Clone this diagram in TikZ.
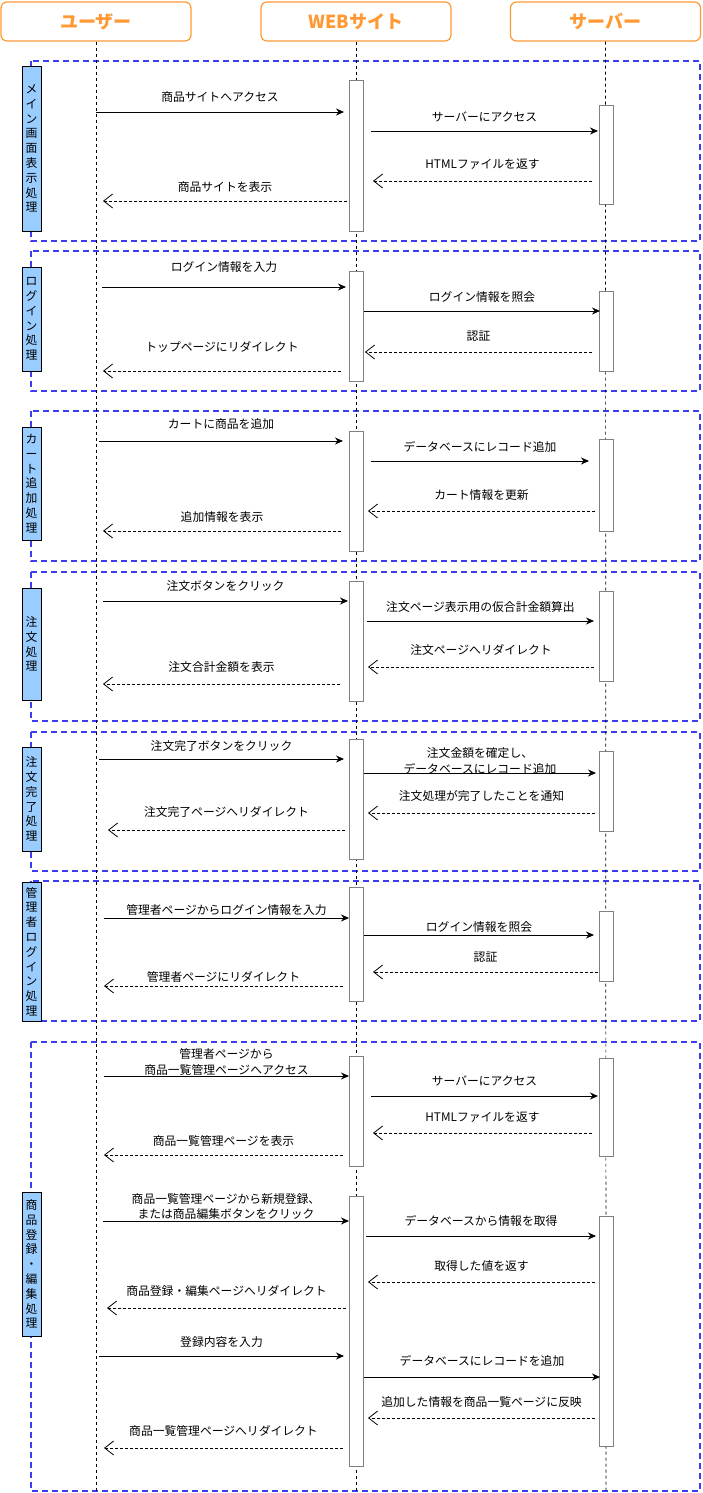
\documentclass[tikz,border=0pt]{standalone}
\usepackage{fontspec}
\setmainfont{Noto Sans CJK JP}
\usepackage{xcolor}
\usetikzlibrary{arrows.meta}
\definecolor{hdrorange}{HTML}{FF9933}
\definecolor{grpblue}{HTML}{3C3CF0}
\definecolor{lblblue}{HTML}{99CCFF}

\begin{document}
\begin{tikzpicture}[x=1pt, y=-1pt,
    hdr/.style={draw=hdrorange, line width=1.2pt, rounded corners=6pt, fill=white, minimum width=190pt, minimum height=39pt, text=hdrorange, font=\fontsize{18}{21}\selectfont\bfseries},
    lbl/.style={draw=black, fill=lblblue, line width=0.9pt, minimum width=19pt, inner sep=0pt, align=center, font=\fontsize{11.8}{14.8}\selectfont},
    act/.style={draw=black!50, fill=white, line width=1pt, minimum width=14pt, inner sep=0pt},
    grp/.style={draw=grpblue, line width=1.6pt, dash pattern=on 6pt off 4pt},
    life/.style={line width=0.7pt, dash pattern=on 3pt off 3pt},
    call/.style={line width=0.9pt, -{Stealth[length=8pt,width=7pt]}},
    ret/.style={line width=0.8pt, dash pattern=on 3pt off 2pt, -{Straight Barb[length=9pt,width=14pt]}},
    msg/.style={align=center, inner sep=0pt, font=\fontsize{11.8}{15.5}\selectfont}]

    \fill[white] (0,0) rectangle (703,1493);
    \useasboundingbox (0,0) rectangle (703,1493);

    % groups
    \draw[grp] (31,61) rectangle (700,241);
    \draw[grp] (31,251) rectangle (700,391);
    \draw[grp] (31,411) rectangle (700,561);
    \draw[grp] (31,572) rectangle (700,721);
    \draw[grp] (31,732) rectangle (700,871);
    \draw[grp] (31,881) rectangle (700,1021);
    \draw[grp] (31,1042) rectangle (700,1491);

    % lifelines
    \node[hdr] (U) at (96,21.5) {ユーザー};
    \node[hdr] (W) at (356,21.5) {WEBサイト};
    \node[hdr] (S) at (605.5,21.5) {サーバー};
    \coordinate (Ub) at (96,1493);
    \coordinate (Wb) at (356,1493);
    \coordinate (Sb) at (606,1493);
    \draw[life] (U.south) -- (Ub);
    \draw[life] (W.south) -- (Wb);
    \draw[life] (S.south) -- (Sb);

    \node[lbl, minimum height=165pt] (L1) at (31.5,148.5) {メ\\イ\\ン\\画\\面\\表\\示\\処\\理};
    \node[lbl, minimum height=104pt] (L2) at (31.5,319) {ロ\\グ\\イ\\ン\\処\\理};
    \node[lbl, minimum height=113pt] (L3) at (31.5,483.5) {カ\\ー\\ト\\追\\加\\処\\理};
    \node[lbl, minimum height=112pt] (L4) at (31.5,644) {注\\文\\処\\理};
    \node[lbl, minimum height=104pt] (L5) at (31.5,799) {注\\文\\完\\了\\処\\理};
    \node[lbl, minimum height=139pt] (L6) at (31.5,951.5) {管\\理\\者\\ロ\\グ\\イ\\ン\\処\\理};
    \node[lbl, minimum height=144pt] (L7) at (31.5,1264) {商\\品\\登\\録\\・\\編\\集\\処\\理};

    \node[act, minimum height=150pt] (W1) at (356,156) {};
    \node[act, minimum height=110pt] (W2) at (356,326) {};
    \node[act, minimum height=120pt] (W3) at (356,491) {};
    \node[act, minimum height=120pt] (W4) at (356,641) {};
    \node[act, minimum height=120pt] (W5) at (356,799) {};
    \node[act, minimum height=114pt] (W6) at (356,944) {};
    \node[act, minimum height=110pt] (W7) at (356,1111) {};
    \node[act, minimum height=270pt] (W8) at (356,1331) {};
    \node[act, minimum height=98pt] (S1) at (606,155) {};
    \node[act, minimum height=80pt] (S2) at (606,331) {};
    \node[act, minimum height=92pt] (S3) at (606,485) {};
    \node[act, minimum height=90pt] (S4) at (606,636) {};
    \node[act, minimum height=80pt] (S5) at (606,791) {};
    \node[act, minimum height=70pt] (S6) at (606,946) {};
    \node[act, minimum height=98pt] (S7) at (606,1107) {};
    \node[act, minimum height=230pt] (S8) at (606,1331) {};

    % requests
    \foreach \y/\xa/\xb/\d/\t [count=\n] in {
        112/96/344/15/商品サイトへアクセス,
        131/371/598/14/サーバーにアクセス,
        287/102/346/20/ログイン情報を入力,
        311/364/600/14/ログイン情報を照会,
        441/99/343/17/カートに商品を追加,
        461/371/589/14/データベースにレコード追加,
        601/103/348/15/注文ボタンをクリック,
        621/367/594/14/注文ページ表示用の仮合計金額算出,
        759/99/344/13/注文完了ボタンをクリック,
        773/364/596/12/{注文金額を確定し、\\データベースにレコード追加},
        918/104/349/8/管理者ページからログイン情報を入力,
        935/364/594/8/ログイン情報を照会,
        1076/104/349/14/{管理者ページから\\商品一覧管理ページへアクセス},
        1096/371/598/15/サーバーにアクセス,
        1221/103/349/14.5/{商品一覧管理ページから新規登録、\\または商品編集ボタンをクリック},
        1236/366/596/15/データベースから情報を取得,
        1356/99/344/14/登録内容を入力,
        1377/364/600/16/データベースにレコードを追加}
    {
        \coordinate (c\n-a) at (\xa,\y);
        \coordinate (c\n-b) at (\xb,\y);
        \draw[call] (c\n-a) -- node[msg, yshift=\d pt] {\t} (c\n-b);
    }

    % replies
    \foreach \y/\xa/\xb/\d/\t [count=\n] in {
        181/592/373/17/HTMLファイルを返す,
        201/347/103/14/商品サイトを表示,
        352/592/365/16/認証,
        371/341/103/24/トップページにリダイレクト,
        511/595/368/16/カート情報を更新,
        531/341/103/14/追加情報を表示,
        667/594/368/17/注文ページへリダイレクト,
        684/340/103/17/注文合計金額を表示,
        813/595/368/17/注文処理が完了したことを通知,
        830/345/108/18/注文完了ページへリダイレクト,
        972/598/373/15/認証,
        986/343/104/9/管理者ページにリダイレクト,
        1133/592/373/16/HTMLファイルを返す,
        1155/343/104/14/商品一覧管理ページを表示,
        1282/595/368/16/取得した値を返す,
        1308/346/107/17/商品登録・編集ページへリダイレクト,
        1418/595/368/16/追加した情報を商品一覧ページに反映,
        1448/343/104/17/商品一覧管理ページへリダイレクト}
    {
        \coordinate (r\n-a) at (\xa,\y);
        \coordinate (r\n-b) at (\xb,\y);
        \draw[ret] (r\n-a) -- node[msg, yshift=\d pt] {\t} (r\n-b);
    }

\end{tikzpicture}
\end{document}
